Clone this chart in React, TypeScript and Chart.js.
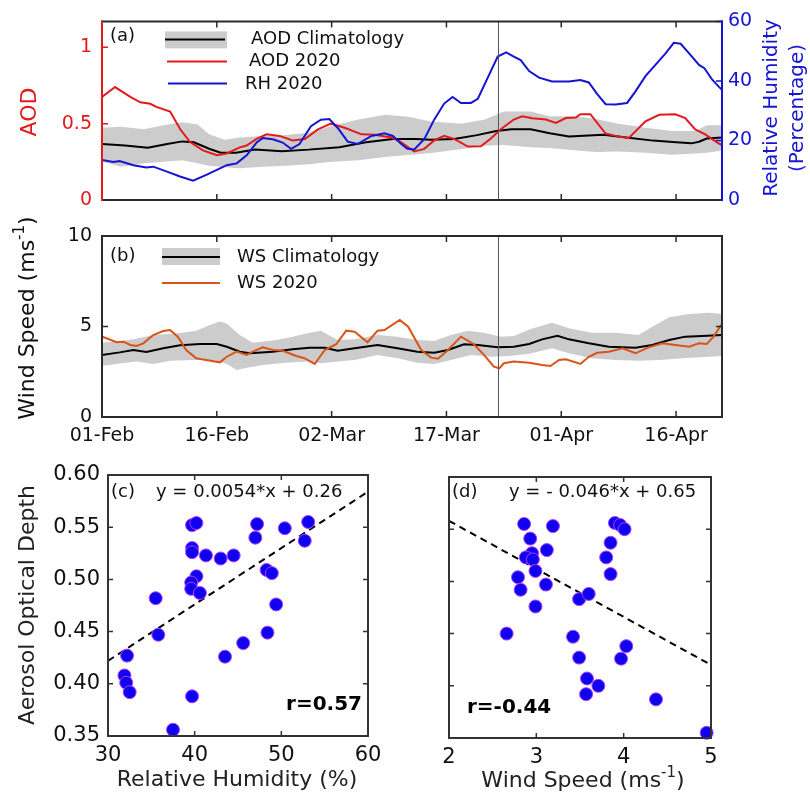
import React, { useEffect, useRef } from 'react';
import { Chart, registerables } from 'chart.js';

Chart.register(...registerables);

const FONT = "'DejaVu Sans', 'Open Sans', sans-serif";
Chart.defaults.font.family = FONT;
Chart.defaults.color = '#111';

const RED = '#e31a1c';
const BLUE = '#1414d2';
const ORANGE = '#d95319';
const BAND = '#cccccc';
const FRAME = '#2a2a2a';
const DOT = '#1000f0';
const DOT_EDGE = '#b040ff';

// ---------- time axis ----------
const tickDays = [0, 15, 30, 45, 60, 75];
const tickLabels = ['01-Feb', '16-Feb', '02-Mar', '17-Mar', '01-Apr', '16-Apr'];
const dayMax = 81;
const lockdownDay = 51.8;
const aodTicks = [0, 0.5, 1];
const rhTicks = [0, 20, 40, 60];
const wsTicks = [0, 5, 10];

// ---------- panel (a) ----------
const aodDays = [0, 1.7, 3.7, 5, 6.3, 7.1, 8.9, 10.2, 11.5, 13.2, 15, 16.3, 18, 18.9, 20.2, 21.5, 23.2, 24.9, 26.5, 28.2, 29.9, 31.7, 33.9, 35.6, 37.8, 39.1, 40.8, 42.1, 43.4, 44.7, 46, 47.8, 49.5, 50.8, 52.1, 53.8, 54.9, 56.2, 58, 59.3, 60.6, 61.9, 62.5, 63.8, 65.8, 67.1, 68.8, 71, 72.8, 74.9, 76.2, 77.5, 78.8, 80.6, 81];
const aod2020 = [0.675, 0.74, 0.675, 0.64, 0.63, 0.61, 0.58, 0.465, 0.38, 0.325, 0.293, 0.305, 0.345, 0.357, 0.40, 0.43, 0.42, 0.39, 0.40, 0.463, 0.50, 0.473, 0.43, 0.427, 0.41, 0.378, 0.318, 0.335, 0.39, 0.42, 0.40, 0.35, 0.352, 0.403, 0.463, 0.527, 0.548, 0.535, 0.527, 0.505, 0.537, 0.54, 0.562, 0.562, 0.435, 0.42, 0.405, 0.516, 0.558, 0.562, 0.537, 0.463, 0.43, 0.37, 0.36];

const rhDays = [0, 1.5, 2.3, 4.1, 5.8, 6.7, 8.4, 10.2, 11.9, 13.7, 15, 16.3, 17.6, 18.9, 20.2, 21, 22.3, 23.6, 24.7, 25.8, 27.3, 28.6, 29.7, 30.8, 32.1, 33.4, 35.2, 36.9, 38, 39.1, 39.9, 40.8, 42.1, 43.4, 44.7, 45.8, 46.9, 48.2, 49.1, 50.4, 51.7, 52.8, 53.8, 54.7, 55.8, 57.1, 58.8, 61, 62.5, 63.6, 64.7, 65.8, 67.1, 68.6, 69.7, 71, 72.3, 73.6, 74.7, 75.6, 76.9, 78, 78.7, 79.7, 80.6, 81];
const rh2020 = [13.4, 12.8, 13.1, 11.7, 10.9, 11.2, 9.6, 7.9, 6.5, 8.5, 10.1, 11.7, 12.3, 15, 19.3, 20.8, 20.4, 19.3, 17.2, 18.8, 24.8, 27, 27.2, 24.2, 19.6, 18.8, 21.5, 22.4, 21.5, 18.8, 17.2, 17, 20.4, 27, 32.4, 34.6, 32.6, 32.6, 34, 41.1, 48.2, 49.6, 48.2, 47, 43.3, 41.1, 39.8, 39.8, 40.3, 39.5, 35.6, 32.2, 32.1, 32.6, 36.5, 41.6, 45.4, 49.2, 52.8, 52.5, 48.7, 45.4, 44.3, 40.5, 38, 37];

const aodClimDays = [0, 3, 6, 8.5, 10.5, 12, 14, 15.5, 17.5, 20, 23.5, 27, 31, 34.5, 38, 41, 43, 46, 49, 51.5, 53.5, 56, 58.5, 61, 65.5, 68.5, 72, 75, 77, 78, 79, 81];
const aodClimMean = [0.367, 0.357, 0.342, 0.367, 0.384, 0.378, 0.336, 0.31, 0.31, 0.331, 0.32, 0.33, 0.346, 0.378, 0.40, 0.40, 0.395, 0.40, 0.425, 0.452, 0.463, 0.463, 0.437, 0.416, 0.427, 0.41, 0.389, 0.378, 0.371, 0.382, 0.403, 0.41];

const aodBandDays = [0, 2.5, 5.5, 8, 10.5, 12.5, 14, 16, 18, 21, 24, 27, 30, 33.5, 37, 40, 43, 47, 50, 52.5, 56, 58.5, 62, 64.5, 67.5, 71, 74.5, 77.5, 79, 81];
const aodClimUpper = [0.473, 0.48, 0.463, 0.49, 0.51, 0.495, 0.43, 0.395, 0.41, 0.42, 0.425, 0.44, 0.484, 0.527, 0.559, 0.545, 0.515, 0.50, 0.527, 0.58, 0.58, 0.548, 0.548, 0.53, 0.50, 0.473, 0.452, 0.452, 0.489, 0.489];
const aodClimLower = [0.25, 0.218, 0.24, 0.25, 0.26, 0.24, 0.225, 0.215, 0.208, 0.218, 0.225, 0.235, 0.25, 0.261, 0.282, 0.295, 0.308, 0.334, 0.355, 0.36, 0.346, 0.34, 0.325, 0.314, 0.318, 0.31, 0.297, 0.304, 0.31, 0.325];

// ---------- panel (b) ----------
const wsDays = [0, 0.6, 1.9, 2.8, 3.7, 4.5, 5.4, 6.7, 8, 8.9, 9.9, 11, 12.3, 13.6, 15.4, 16.3, 17.6, 18.9, 19.7, 21, 22.3, 23.6, 25.4, 26.5, 27.8, 29.1, 30.6, 31.9, 33, 34.7, 36, 36.9, 38.9, 40, 41.7, 43, 43.9, 45.2, 46.9, 48.6, 49.9, 51.2, 51.9, 52.5, 53.8, 55.8, 57.5, 58.6, 59.7, 60.6, 62.5, 63.6, 64.7, 66.2, 68, 69.7, 71.4, 73.2, 74.9, 76.7, 78, 79, 79.9, 81];
const ws2020 = [4.44, 4.35, 4.13, 4.16, 3.98, 3.92, 4.07, 4.53, 4.75, 4.8, 4.44, 3.7, 3.24, 3.15, 3.02, 3.33, 3.61, 3.43, 3.61, 3.85, 3.7, 3.66, 3.37, 3.24, 2.93, 3.7, 4.02, 4.77, 4.71, 4.13, 4.77, 4.8, 5.36, 4.99, 3.7, 3.28, 3.22, 3.7, 4.44, 4.02, 3.43, 2.78, 2.69, 2.97, 3.06, 3.0, 2.87, 2.82, 3.15, 3.19, 2.93, 3.33, 3.55, 3.61, 3.8, 3.52, 3.85, 4.07, 3.98, 3.88, 4.07, 4.03, 4.44, 5.15];

const wsClimDays = [0, 2.3, 4.1, 5.8, 8, 10.2, 12.8, 15, 16.3, 18, 19.3, 22.3, 24.9, 27.1, 29.1, 30.8, 33, 36, 38.6, 41.2, 43.4, 45.2, 47.3, 49.1, 51.7, 53.8, 55.8, 57.5, 59.5, 61, 63.6, 66.2, 69.7, 71.9, 74.1, 76.2, 78.4, 81];
const wsClimMean = [3.43, 3.57, 3.7, 3.59, 3.8, 3.96, 4.03, 4.03, 3.88, 3.61, 3.52, 3.61, 3.74, 3.83, 3.83, 3.66, 3.8, 3.98, 3.8, 3.61, 3.55, 3.7, 4.02, 3.98, 3.85, 3.88, 4.03, 4.29, 4.49, 4.29, 4.07, 3.88, 3.83, 3.98, 4.25, 4.44, 4.48, 4.53];

const wsUpperDays = [0, 2.3, 4.1, 6.7, 9.7, 12.3, 14.1, 15.4, 16.3, 18, 19.7, 22.8, 24.9, 27.1, 28.6, 30.8, 33, 36, 38.6, 41.2, 43.4, 45.6, 47.8, 49.9, 52.1, 53.8, 55.8, 58.8, 61, 64, 67.1, 70.1, 71.9, 74.1, 76.7, 79.3, 81];
const wsClimUpper = [4.1, 4.2, 4.3, 4.53, 4.62, 4.77, 5.08, 5.27, 5.17, 4.53, 4.1, 4.25, 4.44, 4.66, 4.77, 4.25, 4.29, 4.53, 4.44, 4.25, 4.2, 4.53, 4.77, 4.66, 4.44, 4.48, 4.84, 5.21, 4.9, 4.66, 4.66, 4.53, 4.99, 5.51, 5.69, 5.76, 5.69];
const wsLowerDays = [0, 2.3, 4.5, 6.7, 8.9, 12, 14.5, 16.3, 17.6, 18.9, 21, 24, 27.1, 28.6, 30.8, 33, 36, 38.6, 41.2, 43.4, 45.6, 48.2, 50.8, 53.2, 55.8, 58.8, 61, 64, 67.1, 70.1, 72.8, 75.8, 79.3, 81];
const wsClimLower = [2.82, 2.95, 3.06, 2.93, 3.11, 3.15, 3.15, 2.93, 2.6, 2.72, 2.87, 3.0, 3.06, 2.97, 3.06, 3.15, 3.43, 3.24, 3.0, 2.93, 3.15, 3.43, 3.33, 3.37, 3.5, 3.8, 3.52, 3.24, 3.15, 3.11, 3.15, 3.24, 3.33, 3.37];

// ---------- panels (c) and (d) ----------
const scYTicks = [0.35, 0.4, 0.45, 0.5, 0.55, 0.6];
const rhXTicks = [30, 40, 50, 60];
const wsXTicks = [2, 3, 4, 5];

const scRH = [39.7, 40.2, 39.7, 39.7, 41.3, 43.0, 44.5, 47.0, 47.2, 50.4, 53.1, 52.7, 48.3, 48.9, 40.2, 39.6, 39.6, 40.6, 35.5, 49.4, 48.4, 45.6, 35.8, 43.5, 32.2, 31.9, 32.1, 32.5, 39.7, 37.5];
const scAodC = [0.552, 0.554, 0.530, 0.526, 0.523, 0.520, 0.523, 0.540, 0.553, 0.549, 0.555, 0.537, 0.509, 0.506, 0.503, 0.497, 0.491, 0.487, 0.482, 0.476, 0.449, 0.439, 0.447, 0.426, 0.427, 0.408, 0.401, 0.392, 0.388, 0.356];
const scWS = [2.86, 3.19, 2.93, 3.12, 2.95, 2.88, 2.96, 2.99, 2.79, 3.11, 2.82, 3.49, 3.6, 2.99, 2.66, 3.9, 3.96, 4.01, 3.85, 3.8, 3.85, 3.42, 4.03, 3.49, 3.97, 3.58, 3.71, 3.57, 4.37, 4.95];
const scAodD = [0.555, 0.553, 0.541, 0.530, 0.527, 0.523, 0.521, 0.510, 0.504, 0.497, 0.492, 0.483, 0.488, 0.476, 0.450, 0.556, 0.554, 0.550, 0.537, 0.523, 0.507, 0.447, 0.438, 0.427, 0.426, 0.407, 0.400, 0.392, 0.387, 0.355];

const fitC = { slope: 0.0054, intercept: 0.26, label: 'y = 0.0054*x + 0.26', r: 'r=0.57' };
const fitD = { slope: -0.046, intercept: 0.65, label: 'y = - 0.046*x + 0.65', r: 'r=-0.44' };

// ---------- helpers ----------
const pts = (xs: number[], ys: number[]) => xs.map((x, i) => ({ x, y: ys[i] }));
const fixedTicks = (vals: number[]) => (s: any) => { s.ticks = vals.map((v) => ({ value: v })); };

type Part = { t: string; sup?: boolean };
function drawRich(ctx: CanvasRenderingContext2D, parts: Part[], x: number, y: number, size: number, color: string,
  opts: { align?: 'left' | 'center' | 'right'; rotate?: number; bold?: boolean } = {}) {
  const weight = opts.bold ? 'bold ' : '';
  const fontFor = (p: Part) => `${weight}${p.sup ? Math.round(size * 0.68) : size}px ${FONT}`;
  ctx.save();
  let total = 0;
  const widths = parts.map((p) => { ctx.font = fontFor(p); const w = ctx.measureText(p.t).width; total += w; return w; });
  ctx.translate(x, y);
  if (opts.rotate) ctx.rotate(opts.rotate);
  let cx = opts.align === 'center' ? -total / 2 : opts.align === 'right' ? -total : 0;
  ctx.fillStyle = color;
  ctx.textBaseline = 'middle';
  ctx.textAlign = 'left';
  parts.forEach((p, i) => {
    ctx.font = fontFor(p);
    ctx.fillText(p.t, cx, p.sup ? -size * 0.38 : 0);
    cx += widths[i];
  });
  ctx.restore();
}

type Side = 'top' | 'bottom' | 'left' | 'right';
function innerTicks(chart: any, scaleId: string, values: number[], sides: Side[], color: string, len: number) {
  const { ctx, chartArea: a } = chart;
  const sc = chart.scales[scaleId];
  ctx.save();
  ctx.strokeStyle = color;
  ctx.lineWidth = 1.5;
  ctx.beginPath();
  values.forEach((v) => {
    const p = sc.getPixelForValue(v);
    sides.forEach((s) => {
      if (s === 'bottom') { ctx.moveTo(p, a.bottom); ctx.lineTo(p, a.bottom - len); }
      if (s === 'top') { ctx.moveTo(p, a.top); ctx.lineTo(p, a.top + len); }
      if (s === 'left') { ctx.moveTo(a.left, p); ctx.lineTo(a.left + len, p); }
      if (s === 'right') { ctx.moveTo(a.right, p); ctx.lineTo(a.right - len, p); }
    });
  });
  ctx.stroke();
  ctx.restore();
}

function frame(chart: any, c: { top: string; bottom: string; left: string; right: string }, w: number) {
  const { ctx, chartArea: a } = chart;
  ctx.save();
  ctx.lineWidth = w;
  ctx.lineCap = 'square';
  const seg = (col: string, x1: number, y1: number, x2: number, y2: number) => {
    ctx.strokeStyle = col; ctx.beginPath(); ctx.moveTo(x1, y1); ctx.lineTo(x2, y2); ctx.stroke();
  };
  seg(c.top, a.left, a.top, a.right, a.top);
  seg(c.bottom, a.left, a.bottom, a.right, a.bottom);
  seg(c.left, a.left, a.top, a.left, a.bottom);
  seg(c.right, a.right, a.top, a.right, a.bottom);
  ctx.restore();
}

function vline(chart: any, day: number) {
  const { ctx, chartArea: a } = chart;
  const x = chart.scales.x.getPixelForValue(day);
  ctx.save();
  ctx.strokeStyle = '#555';
  ctx.lineWidth = 1;
  ctx.beginPath(); ctx.moveTo(x, a.top); ctx.lineTo(x, a.bottom); ctx.stroke();
  ctx.restore();
}

function keyLine(ctx: CanvasRenderingContext2D, x1: number, x2: number, y: number, color: string) {
  ctx.save(); ctx.strokeStyle = color; ctx.lineWidth = 2;
  ctx.beginPath(); ctx.moveTo(x1, y); ctx.lineTo(x2, y); ctx.stroke(); ctx.restore();
}
function keyBand(ctx: CanvasRenderingContext2D, x: number, y: number, w: number, h: number) {
  ctx.save(); ctx.fillStyle = BAND; ctx.fillRect(x, y, w, h); ctx.restore();
}

const noGrid = { display: false, drawTicks: false };
const noBorder = { display: false };
const ROT = -Math.PI / 2;

const baseOptions = (padding: any) => ({
  responsive: false,
  animation: false as const,
  devicePixelRatio: 1,
  events: [] as any[],
  layout: { padding },
  plugins: { legend: { display: false }, tooltip: { enabled: false } },
});

const timeX = (showLabels: boolean) => ({
  type: 'linear' as const,
  min: 0,
  max: dayMax,
  display: showLabels,
  afterBuildTicks: fixedTicks(tickDays),
  ticks: {
    autoSkip: false, maxRotation: 0, padding: 8, color: '#111',
    font: { size: 19 },
    callback: (v: any) => tickLabels[tickDays.indexOf(Number(v))] ?? '',
  },
  grid: noGrid, border: noBorder,
  afterFit: (s: any) => { s.height = showLabels ? 36 : 0; },
});

// ---------- configs ----------
function configA(): any {
  return {
    type: 'line',
    data: {
      datasets: [
        { label: 'AOD Climatology range', data: pts(aodBandDays, aodClimUpper), yAxisID: 'y', borderColor: 'rgba(0,0,0,0)', borderWidth: 0, pointRadius: 0, backgroundColor: BAND, fill: '+1', order: 10 },
        { label: 'AOD Climatology low', data: pts(aodBandDays, aodClimLower), yAxisID: 'y', borderColor: 'rgba(0,0,0,0)', borderWidth: 0, pointRadius: 0, fill: false, order: 11 },
        { label: 'AOD Climatology', data: pts(aodClimDays, aodClimMean), yAxisID: 'y', borderColor: '#000', borderWidth: 2, pointRadius: 0, fill: false, order: 3 },
        { label: 'AOD 2020', data: pts(aodDays, aod2020), yAxisID: 'y', borderColor: RED, borderWidth: 2, pointRadius: 0, fill: false, order: 2 },
        { label: 'RH 2020', data: pts(rhDays, rh2020), yAxisID: 'y1', borderColor: BLUE, borderWidth: 2, pointRadius: 0, fill: false, order: 1 },
      ],
    },
    options: {
      ...baseOptions({ left: 52, right: 38, top: 17, bottom: 596 }),
      scales: {
        x: timeX(false),
        y: {
          position: 'left', min: 0, max: 1.17,
          afterBuildTicks: fixedTicks(aodTicks),
          ticks: { color: RED, font: { size: 19 }, padding: 10, callback: (v: any) => String(v) },
          grid: noGrid, border: noBorder,
          afterFit: (s: any) => { s.width = 50; },
        },
        y1: {
          position: 'right', min: 0, max: 60,
          afterBuildTicks: fixedTicks(rhTicks),
          ticks: { color: BLUE, font: { size: 19 }, padding: 6, callback: (v: any) => String(v) },
          grid: noGrid, border: noBorder,
          afterFit: (s: any) => { s.width = 50; },
        },
      },
    },
    plugins: [{
      id: 'decorA',
      afterDraw: (chart: any) => {
        const { ctx, chartArea: a } = chart;
        vline(chart, lockdownDay);
        innerTicks(chart, 'x', tickDays, ['top', 'bottom'], FRAME, 6);
        innerTicks(chart, 'y', aodTicks, ['left'], RED, 6);
        innerTicks(chart, 'y1', rhTicks, ['right'], BLUE, 6);
        frame(chart, { top: FRAME, bottom: FRAME, left: RED, right: BLUE }, 2);
        keyBand(ctx, a.left + 63, a.top + 10, 62, 17);
        keyLine(ctx, a.left + 63, a.left + 123, a.top + 18, '#000');
        drawRich(ctx, [{ t: 'AOD Climatology' }], a.left + 149, a.top + 18, 18, '#111');
        keyLine(ctx, a.left + 65, a.left + 125, a.top + 40, RED);
        drawRich(ctx, [{ t: 'AOD 2020' }], a.left + 147, a.top + 40, 18, '#111');
        keyLine(ctx, a.left + 66, a.left + 125, a.top + 62, BLUE);
        drawRich(ctx, [{ t: 'RH 2020' }], a.left + 143, a.top + 63, 18, '#111');
        drawRich(ctx, [{ t: '(a)' }], a.left + 8, a.top + 15, 18, '#111');
        drawRich(ctx, [{ t: 'AOD' }], 30, 112, 22, RED, { align: 'center', rotate: ROT });
        drawRich(ctx, [{ t: 'Relative Humidity' }], 772, 108, 20, BLUE, { align: 'center', rotate: ROT });
        drawRich(ctx, [{ t: '(Percentage)' }], 798, 108, 20, BLUE, { align: 'center', rotate: ROT });
      },
    }],
  };
}

function configB(): any {
  return {
    type: 'line',
    data: {
      datasets: [
        { label: 'WS Climatology range', data: pts(wsUpperDays, wsClimUpper), borderColor: 'rgba(0,0,0,0)', borderWidth: 0, pointRadius: 0, backgroundColor: BAND, fill: '+1', order: 10 },
        { label: 'WS Climatology low', data: pts(wsLowerDays, wsClimLower), borderColor: 'rgba(0,0,0,0)', borderWidth: 0, pointRadius: 0, fill: false, order: 11 },
        { label: 'WS Climatology', data: pts(wsClimDays, wsClimMean), borderColor: '#000', borderWidth: 2, pointRadius: 0, fill: false, order: 2 },
        { label: 'WS 2020', data: pts(wsDays, ws2020), borderColor: ORANGE, borderWidth: 2, pointRadius: 0, fill: false, order: 1 },
      ],
    },
    options: {
      ...baseOptions({ left: 52, right: 88, top: 236, bottom: 343 }),
      scales: {
        x: timeX(true),
        y: {
          position: 'left', min: 0, max: 10,
          afterBuildTicks: fixedTicks(wsTicks),
          ticks: { color: '#111', font: { size: 19 }, padding: 10, callback: (v: any) => String(v) },
          grid: noGrid, border: noBorder,
          afterFit: (s: any) => { s.width = 50; },
        },
      },
    },
    plugins: [{
      id: 'decorB',
      afterDraw: (chart: any) => {
        const { ctx, chartArea: a } = chart;
        vline(chart, lockdownDay);
        innerTicks(chart, 'x', tickDays, ['top', 'bottom'], FRAME, 6);
        innerTicks(chart, 'y', wsTicks, ['left', 'right'], FRAME, 6);
        frame(chart, { top: FRAME, bottom: FRAME, left: FRAME, right: FRAME }, 2);
        keyBand(ctx, a.left + 60, a.top + 12, 58, 17);
        keyLine(ctx, a.left + 60, a.left + 118, a.top + 21, '#000');
        drawRich(ctx, [{ t: 'WS Climatology' }], a.left + 135, a.top + 21, 18, '#111');
        keyLine(ctx, a.left + 60, a.left + 118, a.top + 47, ORANGE);
        drawRich(ctx, [{ t: 'WS 2020' }], a.left + 135, a.top + 47, 18, '#111');
        drawRich(ctx, [{ t: '(b)' }], a.left + 8, a.top + 20, 18, '#111');
        drawRich(ctx, [{ t: 'Wind Speed (ms' }, { t: '-1', sup: true }, { t: ')' }], 28, 318, 22, '#111', { align: 'center', rotate: ROT });
      },
    }],
  };
}

function scatterConfig(xs: number[], ys: number[], xMin: number, xMax: number, xTicks: number[], fit: any,
  padding: any, showY: boolean, decor: (chart: any) => void): any {
  return {
    type: 'scatter',
    data: {
      datasets: [
        { type: 'line', label: 'fit', data: [{ x: xMin, y: fit.slope * xMin + fit.intercept }, { x: xMax, y: fit.slope * xMax + fit.intercept }], borderColor: '#000', borderWidth: 2, borderDash: [7, 5], pointRadius: 0, fill: false, order: 2 },
        { label: 'AOD', data: pts(xs, ys), backgroundColor: DOT, borderColor: DOT_EDGE, borderWidth: 1, pointRadius: 6.5, clip: false, order: 1 },
      ],
    },
    options: {
      ...baseOptions(padding),
      scales: {
        x: {
          type: 'linear', min: xMin, max: xMax,
          afterBuildTicks: fixedTicks(xTicks),
          ticks: { color: '#111', font: { size: 21 }, padding: 7, maxRotation: 0, autoSkip: false, callback: (v: any) => String(v) },
          grid: noGrid, border: noBorder,
          afterFit: (s: any) => { s.height = 36; },
        },
        y: {
          type: 'linear', min: 0.35, max: 0.6, display: showY,
          afterBuildTicks: fixedTicks(scYTicks),
          ticks: { color: '#111', font: { size: 21 }, padding: 8, callback: (v: any) => Number(v).toFixed(2) },
          grid: noGrid, border: noBorder,
          afterFit: (s: any) => { s.width = showY ? 62 : 0; },
        },
      },
    },
    plugins: [{
      id: 'decorS',
      afterDraw: (chart: any) => {
        innerTicks(chart, 'x', xTicks, ['top', 'bottom'], '#333', 5);
        innerTicks(chart, 'y', scYTicks, ['left', 'right'], '#333', 5);
        frame(chart, { top: '#333', bottom: '#333', left: '#333', right: '#333' }, 2);
        decor(chart);
      },
    }],
  };
}

function configC(): any {
  return scatterConfig(scRH, scAodC, 30, 60, rhXTicks, fitC, { left: 46, right: 442, top: 475, bottom: 24 }, true, (chart: any) => {
    const { ctx, chartArea: a } = chart;
    drawRich(ctx, [{ t: '(c)' }], a.left + 3, a.top + 17, 18, '#111');
    drawRich(ctx, [{ t: fitC.label }], a.left + 48, a.top + 17, 18, '#111');
    drawRich(ctx, [{ t: fitC.r }], a.right - 6, a.bottom - 31, 20, '#000', { align: 'right', bold: true });
    drawRich(ctx, [{ t: 'Aerosol Optical Depth' }], 28, 605, 22, '#222', { align: 'center', rotate: ROT });
    drawRich(ctx, [{ t: 'Relative Humidity (%)' }], 237, 780, 22, '#222', { align: 'center' });
  });
}

function configD(): any {
  return scatterConfig(scWS, scAodD, 2, 5, wsXTicks, fitD, { left: 449, right: 99, top: 477, bottom: 22 }, false, (chart: any) => {
    const { ctx, chartArea: a } = chart;
    drawRich(ctx, [{ t: '(d)' }], a.left + 3, a.top + 15, 18, '#111');
    drawRich(ctx, [{ t: fitD.label }], a.left + 60, a.top + 15, 18, '#111');
    drawRich(ctx, [{ t: fitD.r }], a.left + 18, a.bottom - 30, 20, '#000', { bold: true });
    drawRich(ctx, [{ t: 'Wind Speed (ms' }, { t: '-1', sup: true }, { t: ')' }], 583, 781, 22, '#222', { align: 'center' });
  });
}

export default function App() {
  const ra = useRef<HTMLCanvasElement>(null);
  const rb = useRef<HTMLCanvasElement>(null);
  const rc = useRef<HTMLCanvasElement>(null);
  const rd = useRef<HTMLCanvasElement>(null);

  useEffect(() => {
    const charts = [
      new Chart(ra.current as HTMLCanvasElement, configA()),
      new Chart(rb.current as HTMLCanvasElement, configB()),
      new Chart(rc.current as HTMLCanvasElement, configC()),
      new Chart(rd.current as HTMLCanvasElement, configD()),
    ];
    return () => charts.forEach((c) => c.destroy());
  }, []);

  const cs: React.CSSProperties = { position: 'absolute', left: 0, top: 0, width: 810, height: 796 };
  return (
    <div style={{ position: 'absolute', left: 0, top: 0, width: 810, height: 796, background: '#fff' }}>
      <canvas ref={ra} width={810} height={796} style={cs} />
      <canvas ref={rb} width={810} height={796} style={cs} />
      <canvas ref={rc} width={810} height={796} style={cs} />
      <canvas ref={rd} width={810} height={796} style={cs} />
    </div>
  );
}
